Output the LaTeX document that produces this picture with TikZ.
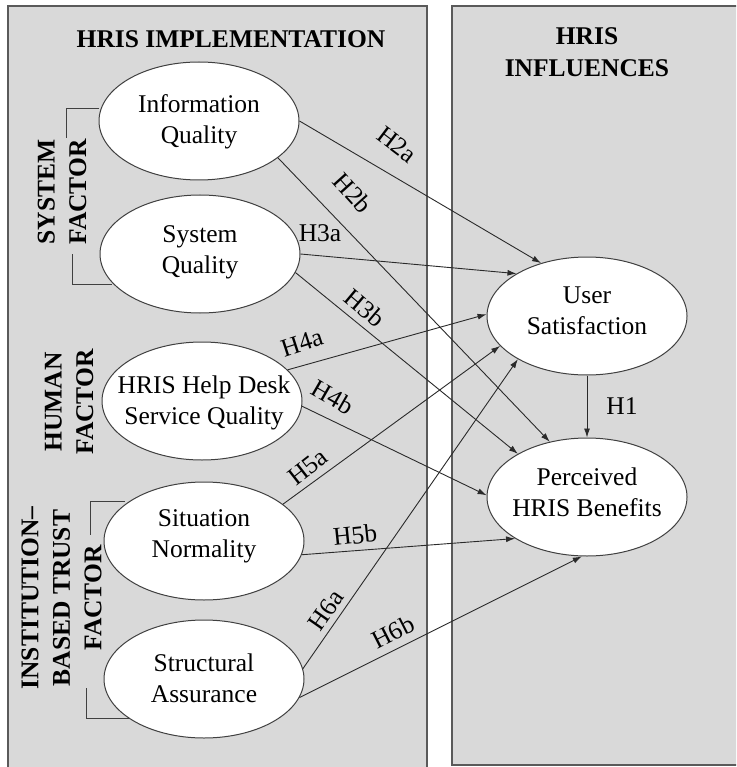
\documentclass[tikz,border=0pt]{standalone}
\usepackage{fontspec}
\setmainfont{Liberation Serif}
\usetikzlibrary{shapes.geometric,arrows.meta}
\definecolor{panelgray}{HTML}{D9D9D9}
\definecolor{bordergray}{HTML}{5A5A5A}
\definecolor{ellgray}{HTML}{404040}
\definecolor{linegray}{HTML}{2A2A2A}
\begin{document}
\begin{tikzpicture}[x=1pt,y=-1pt,
  panel/.style={fill=panelgray, draw=bordergray, line width=1.2pt},
  ell/.style={ellipse, draw=ellgray, fill=white, line width=1pt, minimum width=200pt, minimum height=118pt, inner sep=0pt},
  etext/.style={font=\fontsize{25.5}{31}\selectfont, align=center, inner sep=0pt},
  title/.style={font=\fontsize{25.5}{32}\selectfont\bfseries, align=center, inner sep=0pt},
  factor/.style={font=\fontsize{25.5}{31.5}\selectfont\bfseries, align=center, inner sep=0pt, rotate=90},
  hyp/.style={font=\fontsize{25.5}{30}\selectfont, inner sep=0pt},
  conn/.style={draw=linegray, line width=0.9pt, -{Latex[length=9pt,width=6pt]}},
  brk/.style={draw=ellgray, line width=1pt}]
\clip (0,0) rectangle (736,767);
\fill[white] (0,0) rectangle (736,767);
% panels
\path[panel] (8,6) rectangle (427,780);
\path[panel] (452,6) rectangle (750,765);
% titles
\node[title] (t1) at (231,39) {HRIS IMPLEMENTATION};
\node[title] (t2) at (587,52.5) {HRIS\\INFLUENCES};
% factor labels
\node[factor] (fsys) at (62,192) {SYSTEM\\FACTOR};
\node[factor] (fhum) at (69,402) {HUMAN\\FACTOR};
\node[factor] (finst) at (61.5,598) {INSTITUTION–\\BASED TRUST\\FACTOR};
% brackets
\draw[brk] (99,109) -- (66,109) -- (66,138);
\draw[brk] (72,254) -- (72,284) -- (112,284);
\draw[brk] (125,501) -- (90,501) -- (90,535);
\draw[brk] (86,688) -- (86,718) -- (130,718);
% ellipses
\node[ell] (iq) at (199,121) {};
\node[ell] (sq) at (200,254) {};
\node[ell] (hd) at (202,401) {};
\node[ell] (sn) at (204,541) {};
\node[ell] (sa) at (204,679) {};
\node[ell] (us) at (587,316) {};
\node[ell] (pb) at (587,497) {};
% ellipse texts
\node[etext] (iqt) at (199,122) {Information\\Quality};
\node[etext] (sqt) at (200,252) {System\\Quality};
\node[etext] (hdt) at (204,403) {HRIS Help Desk\\Service Quality};
\node[etext] (snt) at (204,536) {Situation\\Normality};
\node[etext] (sat) at (204,678) {Structural\\Assurance};
\node[etext] (ust) at (587,311) {User\\Satisfaction};
\node[etext] (pbt) at (587,492) {Perceived\\HRIS Benefits};
% connectors
\draw[conn] (iq.0) -- (us.131);
\draw[conn] (iq.-25) -- (pb.124);
\draw[conn] (sq.0) -- (us.149);
\draw[conn] (sq.-11) -- (pb.148);
\draw[conn] (hd.20) -- (us.179);
\draw[conn] (hd.-3) -- (pb.179);
\draw[conn] (sn.25) -- (us.199);
\draw[conn] (sn.-8) -- (pb.210);
\draw[conn] (sa.6) -- (us.212);
\draw[conn] (sa.-11) -- (pb.265);
\draw[conn] (us.south) -- (pb.north);
% hypothesis labels
\node[hyp, rotate=-37] (h2a) at (397,145) {H2a};
\node[hyp, rotate=-48] (h2b) at (353,193) {H2b};
\node[hyp] (h3a) at (320,233) {H3a};
\node[hyp, rotate=-40] (h3b) at (365,308) {H3b};
\node[hyp, rotate=18] (h4a) at (302,343) {H4a};
\node[hyp, rotate=-30] (h4b) at (333,397) {H4b};
\node[hyp, rotate=38] (h5a) at (308,467) {H5a};
\node[hyp, rotate=6] (h5b) at (355,535) {H5b};
\node[hyp, rotate=55] (h6a) at (326,610) {H6a};
\node[hyp, rotate=27] (h6b) at (393,632) {H6b};
\node[hyp] (h1) at (622,406) {H1};
\end{tikzpicture}
\end{document}
